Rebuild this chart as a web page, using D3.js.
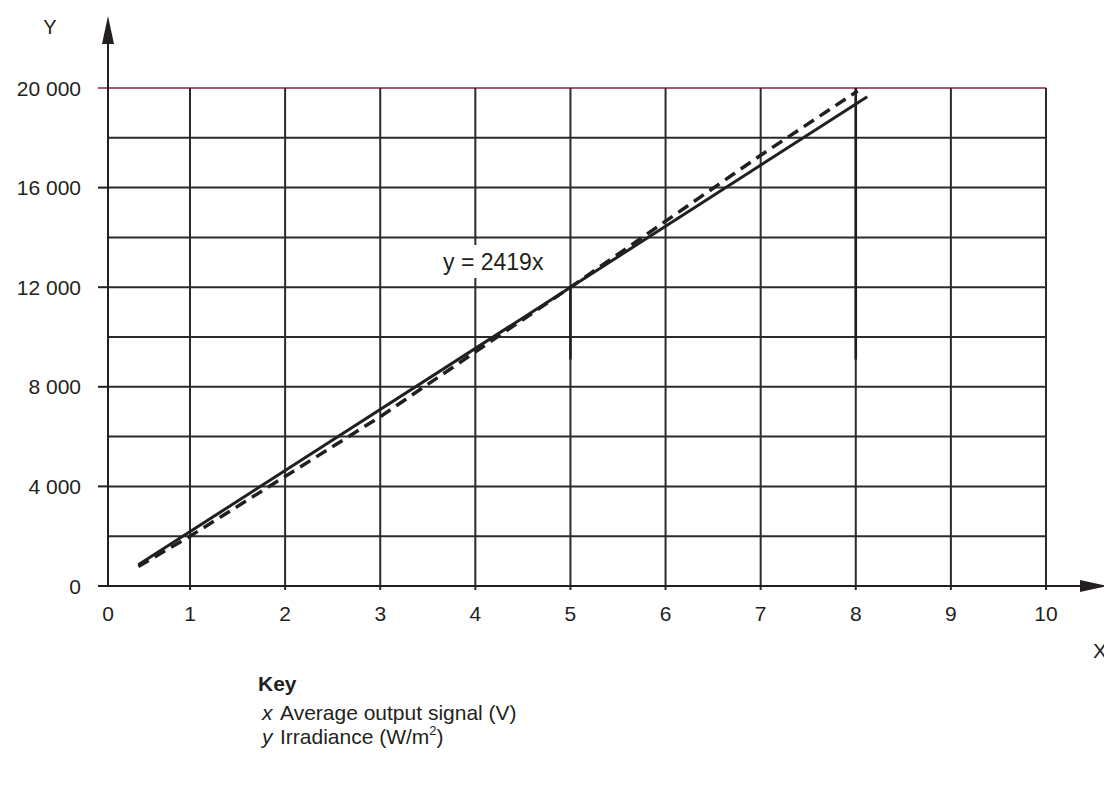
<!DOCTYPE html>
<html>
<head>
<meta charset="utf-8">
<script src="https://cdn.jsdelivr.net/npm/d3@7"></script>
<style>
  body { margin: 0; background: #fff; }
  text { font-family: "Liberation Sans", Arial, sans-serif; fill: #231f20; }
</style>
</head>
<body>
<div id="chart"></div>
<script>
// tick values for both axes
var xTicks = [0, 1, 2, 3, 4, 5, 6, 7, 8, 9, 10];
var yTicks = [0, 4000, 8000, 12000, 16000, 20000];
var yGrid = [2000, 4000, 6000, 8000, 10000, 12000, 14000, 16000, 18000, 20000];

var fitX = [0.37, 8.12];
var fitY = [850, 19650];
var measX = [0.37, 1, 3, 5, 7, 8.02];
var measY = [780, 2000, 6800, 12000, 17300, 19880];

// short heavy marks on the x=5 and x=8 grid lines
var markX = [5, 8];
var markTop = [12000, 20000];
var markBottom = [9100, 9100];

var equation = "y = 2419x";
var keySymbols = ["x", "y"];
var keyTexts = ["Average output signal (V)", "Irradiance (W/m\u00B2)"];

var W = 1104, H = 786;
var ink = "#231f20";

// the first column of the original grid is narrower than the others
var x = d3.scaleLinear().domain([0, 1, 10]).range([108, 190, 1046]);
var y = d3.scaleLinear().domain([0, 20000]).range([586, 88]);

var svg = d3.select("#chart").append("svg")
  .attr("width", W)
  .attr("height", H);

var fmt = function (d) {
  return d3.format(",")(d).replace(/,/g, " ");
};

//grid: horizontal lines
svg.selectAll(".hgrid")
  .data(yGrid)
  .enter().append("line")
  .attr("class", "hgrid")
  .attr("x1", x(0))
  .attr("x2", x(10))
  .attr("y1", function (d) { return y(d); })
  .attr("y2", function (d) { return y(d); })
  .attr("stroke", function (d) { return d === 20000 ? "#8c1c4c" : "#2b2b2b"; })
  .attr("stroke-width", function (d) { return d === 20000 ? 1.5 : 2; });

//grid: vertical lines (with small ticks below the axis)
svg.selectAll(".vgrid")
  .data(xTicks.slice(1))
  .enter().append("line")
  .attr("class", "vgrid")
  .attr("x1", function (d) { return x(d); })
  .attr("x2", function (d) { return x(d); })
  .attr("y1", y(20000))
  .attr("y2", y(0) + 4)
  .attr("stroke", "#2b2b2b")
  .attr("stroke-width", 2);

//y ticks on the left
svg.selectAll(".ytick")
  .data(yTicks)
  .enter().append("line")
  .attr("class", "ytick")
  .attr("x1", x(0) - 10)
  .attr("x2", x(0))
  .attr("y1", function (d) { return y(d); })
  .attr("y2", function (d) { return y(d); })
  .attr("stroke", function (d) { return d === 20000 ? "#8c1c4c" : ink; })
  .attr("stroke-width", function (d) { return d === 20000 ? 1.5 : 2; });

//heavy marks
svg.selectAll(".mark")
  .data(markX)
  .enter().append("line")
  .attr("class", "mark")
  .attr("x1", function (d) { return x(d); })
  .attr("x2", function (d) { return x(d); })
  .attr("y1", function (d, i) { return y(markTop[i]); })
  .attr("y2", function (d, i) { return y(markBottom[i]); })
  .attr("stroke", ink)
  .attr("stroke-width", 2.6);

//axes
svg.append("line")
  .attr("x1", x(0) - 7).attr("x2", 1090)
  .attr("y1", y(0)).attr("y2", y(0))
  .attr("stroke", ink).attr("stroke-width", 2);
svg.append("line")
  .attr("x1", x(0)).attr("x2", x(0))
  .attr("y1", y(0)).attr("y2", 30)
  .attr("stroke", ink).attr("stroke-width", 2);

//arrow heads
svg.append("path")
  .attr("d", "M" + x(0) + ",16 L" + (x(0) - 6) + ",44 L" + (x(0) + 6) + ",44 Z")
  .attr("fill", ink);
svg.append("path")
  .attr("d", "M1108," + y(0) + " L1080," + (y(0) - 6) + " L1080," + (y(0) + 6) + " Z")
  .attr("fill", ink);

//tick labels
svg.selectAll(".ylab")
  .data(yTicks)
  .enter().append("text")
  .attr("class", "ylab")
  .attr("x", 81)
  .attr("y", function (d) { return y(d); })
  .attr("dy", "0.36em")
  .attr("text-anchor", "end")
  .style("font-size", "21px")
  .text(fmt);

svg.selectAll(".xlab")
  .data(xTicks)
  .enter().append("text")
  .attr("class", "xlab")
  .attr("x", function (d) { return x(d); })
  .attr("y", 621)
  .attr("text-anchor", "middle")
  .style("font-size", "21px")
  .text(function (d) { return d; });

//axis names
svg.append("text").attr("x", 50).attr("y", 34)
  .attr("text-anchor", "middle").style("font-size", "20px").text("Y");
svg.append("text").attr("x", 1093).attr("y", 658)
  .style("font-size", "21px").text("X");

//the two lines
var line = d3.line()
  .x(function (d) { return x(d[0]); })
  .y(function (d) { return y(d[1]); });

svg.append("path")
  .datum(measX.map(function (v, i) { return [v, measY[i]]; }))
  .attr("d", line)
  .attr("fill", "none")
  .attr("stroke", ink)
  .attr("stroke-width", 3.5)
  .attr("stroke-dasharray", "12,7");

svg.append("path")
  .datum(fitX.map(function (v, i) { return [v, fitY[i]]; }))
  .attr("d", line)
  .attr("fill", "none")
  .attr("stroke", ink)
  .attr("stroke-width", 3);

//equation label with white box behind it
var eq = svg.append("g").attr("transform", "translate(443,270)");
eq.append("rect")
  .attr("x", -6).attr("y", -25)
  .attr("width", 116).attr("height", 33)
  .attr("fill", "#fff");
eq.append("text")
  .attr("x", 0).attr("y", 0)
  .style("font-size", "23px")
  .text(equation);

//key
svg.append("text")
  .attr("x", 258).attr("y", 691)
  .style("font-size", "21px")
  .style("font-weight", "bold")
  .text("Key");

svg.selectAll(".ksym")
  .data(keySymbols)
  .enter().append("text")
  .attr("class", "ksym")
  .attr("x", 262)
  .attr("y", function (d, i) { return 720 + i * 24; })
  .style("font-size", "21px")
  .style("font-style", "italic")
  .text(function (d) { return d; });

var kt = svg.selectAll(".ktext")
  .data(keyTexts)
  .enter().append("text")
  .attr("class", "ktext")
  .attr("x", 280)
  .attr("y", function (d, i) { return 720 + i * 24; })
  .style("font-size", "21px");

kt.each(function (d) {
  var t = d3.select(this);
  if (d.indexOf("\u00B2") >= 0) {
    var parts = d.split("\u00B2");
    t.append("tspan").text(parts[0]);
    t.append("tspan").attr("dy", -9).style("font-size", "13px").text("2");
    t.append("tspan").attr("dy", 9).text(parts[1]);
  } else {
    t.text(d);
  }
});
</script>
</body>
</html>
